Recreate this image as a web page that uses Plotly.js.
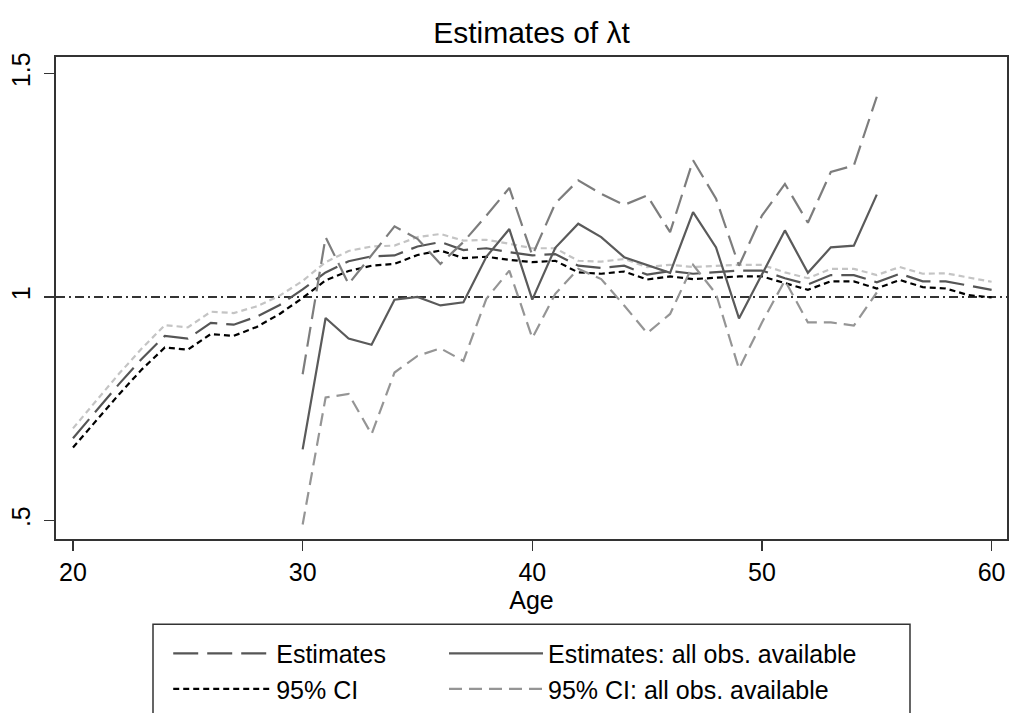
<!DOCTYPE html>
<html>
<head>
<meta charset="utf-8">
<script src="https://cdn.plot.ly/plotly-3.0.1.min.js"></script>
<style>html,body{margin:0;padding:0;background:#fff;}#chart{width:1009px;height:713px;}</style>
</head>
<body>
<div id="chart"></div>
<script>
// Ages
const ages = [20,21,22,23,24,25,26,27,28,29,30,31,32,33,34,35,36,37,38,39,40,41,42,43,44,45,46,47,48,49,50,51,52,53,54,55,56,57,58,59,60];
const agesAll = [30,31,32,33,34,35,36,37,38,39,40,41,42,43,44,45,46,47,48,49,50,51,52,53,54,55];

// Estimates (balanced sample)
const estimates = [0.684,0.745,0.805,0.862,0.913,0.907,0.942,0.938,0.956,0.982,1.017,1.055,1.080,1.091,1.093,1.113,1.123,1.105,1.109,1.100,1.093,1.096,1.070,1.065,1.070,1.050,1.058,1.052,1.055,1.059,1.059,1.042,1.028,1.049,1.049,1.033,1.052,1.035,1.035,1.025,1.016];
const ciLower = [0.663,0.722,0.782,0.838,0.887,0.882,0.917,0.913,0.933,0.962,0.998,1.037,1.058,1.070,1.074,1.094,1.104,1.087,1.090,1.083,1.078,1.081,1.055,1.052,1.057,1.039,1.046,1.040,1.043,1.046,1.046,1.031,1.016,1.035,1.035,1.019,1.038,1.022,1.019,1.004,0.999];
const ciUpper = [0.706,0.768,0.828,0.885,0.937,0.932,0.967,0.964,0.979,1.003,1.036,1.078,1.103,1.113,1.115,1.134,1.141,1.126,1.128,1.119,1.109,1.109,1.081,1.079,1.085,1.067,1.072,1.067,1.069,1.072,1.072,1.055,1.042,1.063,1.063,1.049,1.067,1.052,1.053,1.044,1.034];

// Estimates: all obs. available
const estAll = [0.659,0.953,0.907,0.893,0.994,1.000,0.981,0.988,1.090,1.152,0.994,1.110,1.164,1.134,1.089,1.072,1.054,1.190,1.111,0.952,1.051,1.149,1.054,1.111,1.115,1.229];
const ciAllUpper = [0.827,1.134,1.029,1.094,1.158,1.130,1.074,1.123,1.182,1.244,1.093,1.209,1.261,1.231,1.206,1.227,1.145,1.306,1.220,1.070,1.182,1.253,1.166,1.280,1.294,1.448];
const ciAllLower = [0.491,0.775,0.783,0.693,0.831,0.868,0.885,0.857,0.996,1.059,0.908,1.007,1.063,1.040,0.981,0.919,0.962,1.072,1.007,0.839,0.943,1.037,0.943,0.943,0.936,1.010];

const yTickVals = [0.5, 1, 1.5];
const yTickText = ['.5', '1', '1.5'];
const xTickVals = [20, 30, 40, 50, 60];

const FONT = '"Liberation Sans", Arial, Helvetica, sans-serif';

const traces = [
  {x: ages, y: ciUpper, mode: 'lines', name: '95% CI', showlegend: false,
   line: {color: '#c4c4c4', width: 2.2, dash: '6px,4px'}, legend: 'legend'},
  {x: ages, y: ciLower, mode: 'lines', name: '95% CI',
   line: {color: '#000000', width: 2.2, dash: '6px,4px'}, legend: 'legend', legendrank: 2},
  {x: ages, y: estimates, mode: 'lines', name: 'Estimates',
   line: {color: '#555555', width: 2.2, dash: '25px,9px'}, legend: 'legend', legendrank: 1},
  {x: agesAll, y: ciAllUpper, mode: 'lines', name: '95% CI: all obs. available', showlegend: false,
   line: {color: '#7d7d7d', width: 2.2, dash: '20px,8px'}, legend: 'legend2'},
  {x: agesAll, y: ciAllLower, mode: 'lines', name: '95% CI: all obs. available',
   line: {color: '#959595', width: 2.2, dash: '13px,7px'}, legend: 'legend2', legendrank: 2},
  {x: agesAll, y: estAll, mode: 'lines', name: 'Estimates: all obs. available',
   line: {color: '#5a5a5a', width: 2.2}, legend: 'legend2', legendrank: 1}
];

const axisCommon = {
  showline: true, mirror: true, linecolor: '#333', linewidth: 2,
  ticks: 'outside', ticklen: 10, tickwidth: 1.5, tickcolor: '#333',
  showgrid: false, zeroline: false,
  tickfont: {family: FONT, size: 25, color: '#000'}
};

const legendCommon = {
  orientation: 'v', xanchor: 'left', yanchor: 'top', y: -0.19,
  bgcolor: 'rgba(0,0,0,0)', borderwidth: 0,
  font: {family: FONT, size: 25, color: '#000'}, traceorder: 'normal',
  itemclick: false, itemdoubleclick: false
};

const layout = {
  width: 1009, height: 713,
  margin: {l: 56, r: 2, t: 57, b: 171},
  paper_bgcolor: '#fff', plot_bgcolor: '#fff',
  font: {family: FONT, color: '#000'},
  title: {text: 'Estimates of λt', font: {family: FONT, size: 30, color: '#000'},
          x: 0.5, xref: 'paper', xanchor: 'center', y: 1 - 32/713, yref: 'container', yanchor: 'middle'},
  xaxis: Object.assign({}, axisCommon, {
    range: [19.26, 60.67], tickvals: xTickVals,
    title: {text: 'Age', font: {family: FONT, size: 25, color: '#000'}, standoff: 2}
  }),
  yaxis: Object.assign({}, axisCommon, {
    range: [0.4584, 1.537], tickvals: yTickVals, ticktext: yTickText, tickangle: -90,
    ticklabelstandoff: 4
  }),
  legend: Object.assign({}, legendCommon, {x: 0.118, itemwidth: 98}),
  legend2: Object.assign({}, legendCommon, {x: 0.408, itemwidth: 94}),
  shapes: [
    {type: 'line', xref: 'paper', x0: 0, x1: 1, yref: 'y', y0: 1, y1: 1, layer: 'below',
     line: {color: '#333', width: 2, dash: '9px,4px,2px,4px'}},
    {type: 'rect', xref: 'paper', yref: 'paper', x0: 0.102, x1: 0.898, y0: -0.177, y1: -0.5,
     line: {color: '#333', width: 1.5}, fillcolor: 'rgba(0,0,0,0)'}
  ],
  showlegend: true
};

Plotly.newPlot('chart', traces, layout, {staticPlot: true, displayModeBar: false});
</script>
</body>
</html>
